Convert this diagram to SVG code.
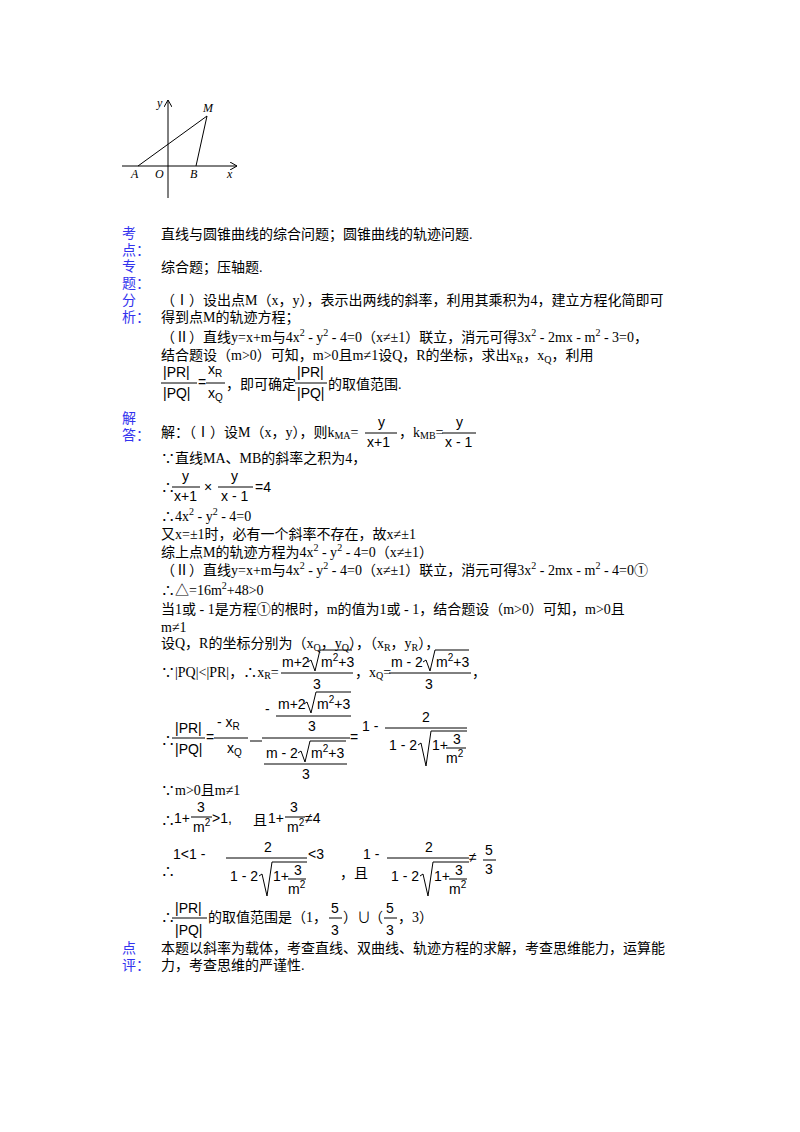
<svg xmlns="http://www.w3.org/2000/svg" width="800" height="1132" viewBox="0 0 800 1132">
<style>
text{font-family:"Liberation Serif","Noto Sans CJK SC",serif;font-size:14px;fill:#000}
.lb{fill:#3333ee;font-size:14px}
.it{font-style:italic;font-size:12px}
.s{font-size:10px}
.m{font-family:"Liberation Sans","Noto Sans CJK SC",sans-serif;font-size:14px}
line,path,polyline{stroke:#000;fill:none;stroke-width:1}
</style>
<defs><marker id="ar" markerWidth="8" markerHeight="8" refX="7" refY="4" orient="auto"><path d="M0,0 L7,4 L0,8" stroke="#000" fill="none"/></marker></defs>
<rect width="800" height="1132" fill="#fff"/>
<g id="graph">
<line x1="122" y1="166" x2="237" y2="166" marker-end="url(#ar)"/>
<line x1="168" y1="198" x2="168" y2="100" marker-end="url(#ar)"/>
<line x1="138" y1="166" x2="207" y2="116"/>
<line x1="196" y1="166" x2="207" y2="116"/>
<text class="it" x="157" y="107">y</text><text class="it" x="203" y="112">M</text>
<text class="it" x="131" y="178">A</text><text class="it" x="155" y="178">O</text>
<text class="it" x="190" y="178">B</text><text class="it" x="227" y="178">x</text>
</g>
<g id="labels">
<text class="lb" x="122" y="238">考</text><text class="lb" x="122" y="255">点：</text>
<text class="lb" x="122" y="271">专</text><text class="lb" x="122" y="288">题：</text>
<text class="lb" x="122" y="305">分</text><text class="lb" x="122" y="322">析：</text>
<text class="lb" x="122" y="423">解</text><text class="lb" x="122" y="440">答：</text>
<text class="lb" x="122" y="953">点</text><text class="lb" x="122" y="970">评：</text>
</g>
<g id="body">
<text x="161" y="239">直线与圆锥曲线的综合问题；圆锥曲线的轨迹问题.</text>
<text x="161" y="272">综合题；压轴题.</text>
<text x="161" y="305">（Ⅰ）设出点M（x，y），表示出两线的斜率，利用其乘积为4，建立方程化简即可</text>
<text x="161" y="322">得到点M的轨迹方程；</text>
<text x="161" y="342">（Ⅱ）直线y=x+m与4x<tspan class="s" dy="-6">2</tspan><tspan dy="6"> - y</tspan><tspan class="s" dy="-6">2</tspan><tspan dy="6"> - 4=0（x≠±1）联立，消元可得3x</tspan><tspan class="s" dy="-6">2</tspan><tspan dy="6"> - 2mx - m</tspan><tspan class="s" dy="-6">2</tspan><tspan dy="6"> - 3=0，</tspan></text>
<text x="161" y="360">结合题设（m&gt;0）可知，m&gt;0且m≠1设Q，R的坐标，求出x<tspan class="s" dy="3">R</tspan><tspan dy="-3">，x</tspan><tspan class="s" dy="3">Q</tspan><tspan dy="-3">，利用</tspan></text>
<text class="m" x="163" y="377">|PR|</text><line x1="161" y1="383" x2="197" y2="383"/><text class="m" x="163" y="398">|PQ|</text>
<text class="m" x="198" y="387">=</text>
<text class="m" x="208" y="374">x<tspan class="s" dy="3">R</tspan></text><line x1="206" y1="383" x2="225" y2="383"/><text class="m" x="208" y="398">x<tspan class="s" dy="3">Q</tspan></text>
<text x="226" y="389">，即可确定</text>
<text class="m" x="297" y="377">|PR|</text><line x1="295" y1="383" x2="327" y2="383"/><text class="m" x="297" y="398">|PQ|</text>
<text x="328" y="389">的取值范围.</text>
<text x="161" y="437">解：（Ⅰ）设M（x，y），则k<tspan class="s" dy="2">MA</tspan><tspan dy="-2">=</tspan></text>
<text class="m" x="378" y="427">y</text><line x1="365" y1="433" x2="397" y2="433"/><text class="m" x="367" y="447">x+1</text>
<text x="399" y="437">，k<tspan class="s" dy="2">MB</tspan><tspan dy="-2">=</tspan></text>
<text class="m" x="456" y="427">y</text><line x1="442" y1="433" x2="476" y2="433"/><text class="m" x="445" y="447">x - 1</text>
<text x="161" y="463">∵直线MA、MB的斜率之积为4，</text>
<text x="161" y="492">∴</text>
<text class="m" x="182" y="481">y</text><line x1="172" y1="487" x2="200" y2="487"/><text class="m" x="174" y="501">x+1</text>
<text class="m" x="204" y="492">×</text>
<text class="m" x="231" y="481">y</text><line x1="218" y1="487" x2="253" y2="487"/><text class="m" x="221" y="501">x - 1</text>
<text class="m" x="255" y="492">=4</text>
<text x="161" y="521">∴4x<tspan class="s" dy="-6">2</tspan><tspan dy="6"> - y</tspan><tspan class="s" dy="-6">2</tspan><tspan dy="6"> - 4=0</tspan></text>
<text x="161" y="539">又x=±1时，必有一个斜率不存在，故x≠±1</text>
<text x="161" y="557">综上点M的轨迹方程为4x<tspan class="s" dy="-6">2</tspan><tspan dy="6"> - y</tspan><tspan class="s" dy="-6">2</tspan><tspan dy="6"> - 4=0（x≠±1）</tspan></text>
<text x="161" y="575">（Ⅱ）直线y=x+m与4x<tspan class="s" dy="-6">2</tspan><tspan dy="6"> - y</tspan><tspan class="s" dy="-6">2</tspan><tspan dy="6"> - 4=0（x≠±1）联立，消元可得3x</tspan><tspan class="s" dy="-6">2</tspan><tspan dy="6"> - 2mx - m</tspan><tspan class="s" dy="-6">2</tspan><tspan dy="6"> - 4=0①</tspan></text>
<text x="161" y="595">∴△=16m<tspan class="s" dy="-6">2</tspan><tspan dy="6">+48&gt;0</tspan></text>
<text x="161" y="614">当1或 - 1是方程①的根时，m的值为1或 - 1，结合题设（m&gt;0）可知，m&gt;0且</text>
<text x="161" y="632">m≠1</text>
<text x="161" y="648">设Q，R的坐标分别为（x<tspan class="s" dy="3">Q</tspan><tspan dy="-3">，y</tspan><tspan class="s" dy="3">Q</tspan><tspan dy="-3">），（x</tspan><tspan class="s" dy="3">R</tspan><tspan dy="-3">，y</tspan><tspan class="s" dy="3">R</tspan><tspan dy="-3">），</tspan></text>
<text x="161" y="677">∵|PQ|&lt;|PR|，∴x<tspan class="s" dy="2">R</tspan><tspan dy="-2">=</tspan></text>
<text class="m" x="282" y="667">m+2</text><path d="M308,662 L311,660 L315,671 L320,650 L352,650"/><text class="m" x="321" y="667">m<tspan class="s" dy="-6">2</tspan><tspan dy="6">+3</tspan></text>
<line x1="281" y1="673" x2="353" y2="673"/><text class="m" x="313" y="689">3</text>
<text x="355" y="677">，x<tspan class="s" dy="2">Q</tspan><tspan dy="-2">=</tspan></text>
<text class="m" x="391" y="667">m - 2</text><path d="M423,662 L426,660 L430,671 L435,650 L469,650"/><text class="m" x="436" y="667">m<tspan class="s" dy="-6">2</tspan><tspan dy="6">+3</tspan></text>
<line x1="389" y1="673" x2="471" y2="673"/><text class="m" x="425" y="689">3</text>
<text x="472" y="677">，</text>
<text x="161" y="745">∴</text>
<text class="m" x="175" y="733">|PR|</text><line x1="172" y1="738" x2="205" y2="738"/><text class="m" x="175" y="754">|PQ|</text>
<text class="m" x="206" y="742">=</text>
<text class="m" x="217" y="727">- x<tspan class="s" dy="3">R</tspan></text><line x1="214" y1="738" x2="248" y2="738"/><text class="m" x="227" y="753">x<tspan class="s" dy="3">Q</tspan></text>
<line x1="250" y1="741" x2="262" y2="741"/>
<text class="m" x="265" y="714">-</text>
<text class="m" x="278" y="709">m+2</text><path d="M304,704 L307,702 L311,713 L316,692 L351,692"/><text class="m" x="317" y="709">m<tspan class="s" dy="-6">2</tspan><tspan dy="6">+3</tspan></text>
<line x1="276" y1="716" x2="351" y2="716"/><text class="m" x="308" y="731">3</text>
<line x1="262" y1="738" x2="350" y2="738"/>
<text class="m" x="266" y="758">m - 2</text><path d="M298,753 L301,751 L305,762 L310,741 L346,741"/><text class="m" x="311" y="758">m<tspan class="s" dy="-6">2</tspan><tspan dy="6">+3</tspan></text>
<line x1="264" y1="764" x2="347" y2="764"/><text class="m" x="302" y="779">3</text>
<text class="m" x="350" y="742">=</text>
<text class="m" x="362" y="731">1 -</text>
<text class="m" x="422" y="722">2</text><line x1="385" y1="728" x2="467" y2="728"/>
<text class="m" x="389" y="750">1 - 2</text><path d="M418,745 L421,743 L426,766 L431,731 L467,731"/>
<text class="m" x="432" y="750">1+</text><text class="m" x="453" y="744">3</text><line x1="446" y1="748" x2="466" y2="748"/><text class="m" x="446" y="763">m<tspan class="s" dy="-6">2</tspan></text>
<text x="161" y="795">∵m&gt;0且m≠1</text>
<text x="161" y="825">∴</text>
<text class="m" x="174" y="823">1+</text><text class="m" x="197" y="812">3</text><line x1="191" y1="817" x2="212" y2="817"/><text class="m" x="193" y="832">m<tspan class="s" dy="-6">2</tspan></text>
<text class="m" x="212" y="823">&gt;1,</text><text x="253" y="825">且</text>
<text class="m" x="268" y="823">1+</text><text class="m" x="290" y="812">3</text><line x1="285" y1="817" x2="305" y2="817"/><text class="m" x="287" y="832">m<tspan class="s" dy="-6">2</tspan></text>
<text class="m" x="305" y="823">≠4</text>
<text x="161" y="876">∴</text>
<text class="m" x="173" y="859">1&lt;1 -</text>
<text class="m" x="264" y="852">2</text><line x1="226" y1="858" x2="307" y2="858"/>
<text class="m" x="230" y="881">1 - 2</text><path d="M259,876 L262,874 L267,896 L272,862 L307,862"/>
<text class="m" x="273" y="881">1+</text><text class="m" x="294" y="875">3</text><line x1="288" y1="879" x2="306" y2="879"/><text class="m" x="288" y="894">m<tspan class="s" dy="-6">2</tspan></text>
<text class="m" x="308" y="859">&lt;3</text>
<text x="340" y="878">，且</text>
<text class="m" x="363" y="859">1 -</text>
<text class="m" x="425" y="852">2</text><line x1="387" y1="858" x2="469" y2="858"/>
<text class="m" x="391" y="881">1 - 2</text><path d="M420,876 L423,874 L428,896 L433,862 L469,862"/>
<text class="m" x="434" y="881">1+</text><text class="m" x="455" y="875">3</text><line x1="449" y1="879" x2="467" y2="879"/><text class="m" x="449" y="894">m<tspan class="s" dy="-6">2</tspan></text>
<text class="m" x="469" y="862">≠</text>
<text class="m" x="485" y="855">5</text><line x1="483" y1="860" x2="496" y2="860"/><text class="m" x="485" y="874">3</text>
<text x="161" y="922">∴</text>
<text class="m" x="175" y="913">|PR|</text><line x1="172" y1="918" x2="207" y2="918"/><text class="m" x="175" y="935">|PQ|</text>
<text x="208" y="922">的取值范围是（1，</text>
<text class="m" x="331" y="913">5</text><line x1="329" y1="918" x2="342" y2="918"/><text class="m" x="331" y="935">3</text>
<text x="343" y="922">）</text><text x="357" y="922">∪</text><text x="369" y="922">（</text>
<text class="m" x="386" y="913">5</text><line x1="384" y1="918" x2="397" y2="918"/><text class="m" x="386" y="935">3</text>
<text x="398" y="922">，3）</text>
<text x="161" y="953">本题以斜率为载体，考查直线、双曲线、轨迹方程的求解，考查思维能力，运算能</text>
<text x="161" y="970">力，考查思维的严谨性.</text>
</g>
</svg>
